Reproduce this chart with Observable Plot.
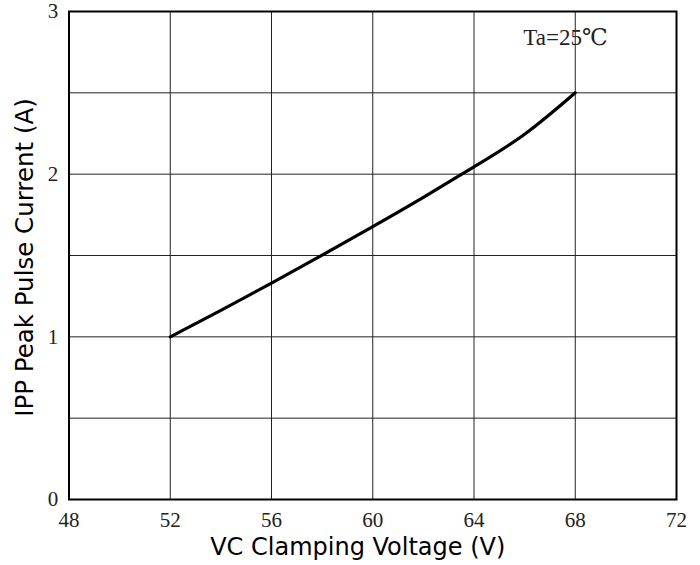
<!DOCTYPE html>
<html><head><meta charset="utf-8">
<script src="https://cdn.jsdelivr.net/npm/d3@7"></script>
<script src="https://cdn.jsdelivr.net/npm/@observablehq/plot@0.6"></script>
<style>
body{margin:0;background:#fff;}
</style>
</head><body>
<div id="chart"></div>
<script>
const voltage = [52, 54, 56, 58, 60, 62, 64, 66, 68];
const current = [1.00, 1.163, 1.33, 1.502, 1.678, 1.858, 2.045, 2.245, 2.50];
const xTicks = [48, 52, 56, 60, 64, 68, 72];
const yTicks = [0, 1, 2, 3];
const yGrid = [0.5, 1, 1.5, 2, 2.5];
const xGrid = [52, 56, 60, 64, 68];
const note = "Ta=25℃";
const xLabel = "VC Clamping Voltage (V)";
const yLabel = "IPP Peak Pulse Current (A)";

const data = voltage.map((v, i) => ({v, c: current[i]}));
const serif = "'Liberation Serif', 'DejaVu Serif', serif";
const sans = "'DejaVu Sans', 'Open Sans', sans-serif";

const chart = Plot.plot({
  width: 700,
  height: 565,
  marginLeft: 68.5,
  marginRight: 24,
  marginTop: 11,
  marginBottom: 66,
  style: {fontFamily: serif, background: "#fff"},
  x: {domain: [48, 72], axis: null},
  y: {domain: [0, 3], axis: null},
  marks: [
    Plot.ruleX(xGrid, {stroke: "#222", strokeWidth: 1, strokeOpacity: 1}),
    Plot.ruleY(yGrid, {stroke: "#222", strokeWidth: 1, strokeOpacity: 1}),
    Plot.frame({stroke: "#000", strokeWidth: 2}),
    Plot.line(data, {x: "v", y: "c", stroke: "#000", strokeWidth: 3.2, curve: "natural"}),
    Plot.text(xTicks, {x: d => d, text: d => String(d), frameAnchor: "bottom", lineAnchor: "middle", dy: 21, fontSize: 21, fontFamily: serif, fill: "#222"}),
    Plot.text(yTicks, {y: d => d, text: d => String(d), frameAnchor: "left", textAnchor: "middle", dx: -16, fontSize: 21, fontFamily: serif, fill: "#222"}),
    Plot.text([note], {frameAnchor: "top-right", textAnchor: "middle", lineAnchor: "middle", dx: -111, dy: 26, fontSize: 23, fontFamily: serif, fill: "#222"}),
    Plot.text([xLabel], {frameAnchor: "bottom", lineAnchor: "middle", dx: -15, dy: 48, fontSize: 24, fontFamily: sans, fill: "#000"}),
    Plot.text([yLabel], {frameAnchor: "left", textAnchor: "middle", lineAnchor: "middle", dx: -44, dy: 2, rotate: -90, fontSize: 24.5, fontFamily: sans, fill: "#000"})
  ]
});
document.getElementById("chart").appendChild(chart);
</script>
</body></html>
